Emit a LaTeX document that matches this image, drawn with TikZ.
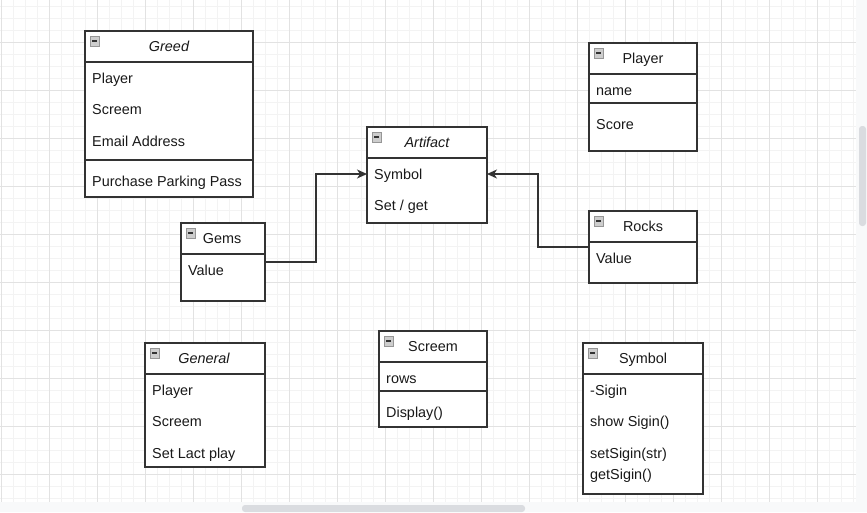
\documentclass[tikz,border=0pt]{standalone}
\usepackage{fontspec}
\setmainfont{Liberation Sans}
\usetikzlibrary{arrows.meta,calc}
\definecolor{minorg}{RGB}{243,243,243}
\definecolor{majorg}{RGB}{226,226,226}
\definecolor{edgec}{RGB}{51,51,51}
\definecolor{bandc}{RGB}{248,249,250}
\definecolor{thumbc}{RGB}{218,220,224}
\definecolor{iconfill}{RGB}{205,205,205}
\definecolor{iconedge}{RGB}{150,150,150}
\tikzset{
  cls/.style={draw=edgec, line width=1.3pt, fill=white, inner sep=0pt, outer sep=0pt, anchor=north west},
  sepline/.style={draw=edgec, line width=1.3pt},
  item/.style={anchor=west, inner sep=0pt, font=\fontsize{14.4}{17}\selectfont, text height=10.3pt, text depth=0pt, text=black!90},
  ttl/.style={inner sep=0pt, font=\fontsize{14.4}{17}\selectfont, text height=10.3pt, text depth=0pt, text=black!90},
  conn/.style={draw=edgec, line width=1.3pt, -{Stealth[length=10pt,width=9pt,inset=3pt]}},
  minorline/.style={draw=minorg, line width=0.8pt},
  majorline/.style={draw=majorg, line width=0.8pt},
  iconbox/.style={fill=iconfill, draw=iconedge, line width=0.7pt},
  iconminus/.style={draw=black!80, line width=1.4pt},
}
\newcommand\umlclass[6]{%
  \pgfmathsetmacro\clsw{#4-#2}%
  \pgfmathsetmacro\clsh{#5-#3}%
  \node[cls, minimum width=\clsw pt, minimum height=\clsh pt] (#1) at (#2,#3) {};
  \draw[sepline] (#2,#6) -- (#4,#6);
  \draw[iconbox] (#2+5,#3+5) rectangle ++(9,10);
  \draw[iconminus] (#2+7,#3+10) -- ++(5,0);
}
\begin{document}
\begin{tikzpicture}[x=1pt,y=-1pt]
\useasboundingbox (0,0) rectangle (867,512);
\fill[white] (0,0) rectangle (867,512);
% grid
\foreach \i in {0,...,71} \draw[minorline] (1+12*\i,0) -- (1+12*\i,502);
\foreach \i in {0,...,41} \draw[minorline] (0,6+12*\i) -- (856,6+12*\i);
\foreach \i in {0,...,17} \draw[majorline] (1+48*\i,0) -- (1+48*\i,502);
\foreach \i in {0,...,9} \draw[majorline] (0,42+48*\i) -- (856,42+48*\i);
% scroll bands
\fill[bandc] (856,0) rectangle (867,512);
\fill[bandc] (0,502) rectangle (867,512);
\fill[thumbc, rounded corners=3pt] (859,126) rectangle (866,226);
\fill[thumbc, rounded corners=3pt] (242,505) rectangle (525,512);

% Greed
\umlclass{greed}{85}{31}{253}{197}{62}
\draw[sepline] (85,160) -- (253,160);
\node[ttl] (greedt) at (169,46.5) {\itshape Greed};
\node[item] (greed1) at (92,78) {Player};
\node[item] (greed2) at (92,109) {Screem};
\node[item] (greed3) at (92,141) {Email Address};
\node[item] (greed4) at (92,181) {Purchase Parking Pass};

% Artifact
\umlclass{artifact}{367}{127}{487}{223}{158}
\node[ttl] (artt) at (427,142.5) {\itshape Artifact};
\node[item] (art1) at (374,174) {Symbol};
\node[item] (art2) at (374,205) {Set / get};

% Gems
\umlclass{gems}{181}{223}{265}{301}{254}
\node[ttl] (gemst) at (222,238.5) {Gems};
\node[item] (gems1) at (188,270) {Value};

% Player
\umlclass{player}{589}{43}{697}{151}{74}
\draw[sepline] (589,103) -- (697,103);
\node[ttl] (playert) at (643,58.5) {Player};
\node[item] (player1) at (596,90) {name};
\node[item] (player2) at (596,124) {Score};

% Rocks
\umlclass{rocks}{589}{211}{697}{283}{242}
\node[ttl] (rockst) at (643,226.5) {Rocks};
\node[item] (rocks1) at (596,258) {Value};

% General
\umlclass{general}{145}{343}{265}{467}{374}
\node[ttl] (gent) at (204,358.5) {\itshape General};
\node[item] (gen1) at (152,390) {Player};
\node[item] (gen2) at (152,421) {Screem};
\node[item] (gen3) at (152,453) {Set Lact play};

% Screem
\umlclass{screem}{379}{331}{487}{427}{362}
\draw[sepline] (379,391) -- (487,391);
\node[ttl] (screemt) at (433,346.5) {Screem};
\node[item] (screem1) at (386,378) {rows};
\node[item] (screem2) at (386,412) {Display()};

% Symbol
\umlclass{symbol}{583}{343}{703}{494}{374}
\node[ttl] (symt) at (643,358.5) {Symbol};
\node[item] (sym1) at (590,390) {-Sigin};
\node[item] (sym2) at (590,421) {show Sigin()};
\node[item] (sym3) at (590,453) {setSigin(str)};
\node[item] (sym4) at (590,474) {getSigin()};

% connectors
\draw[conn] (gems.east) -- ++(51,0) |- (artifact.west |- art1);
\draw[conn] (rocks.west) -- ++(-51,0) |- (artifact.east |- art1);
\end{tikzpicture}
\end{document}
